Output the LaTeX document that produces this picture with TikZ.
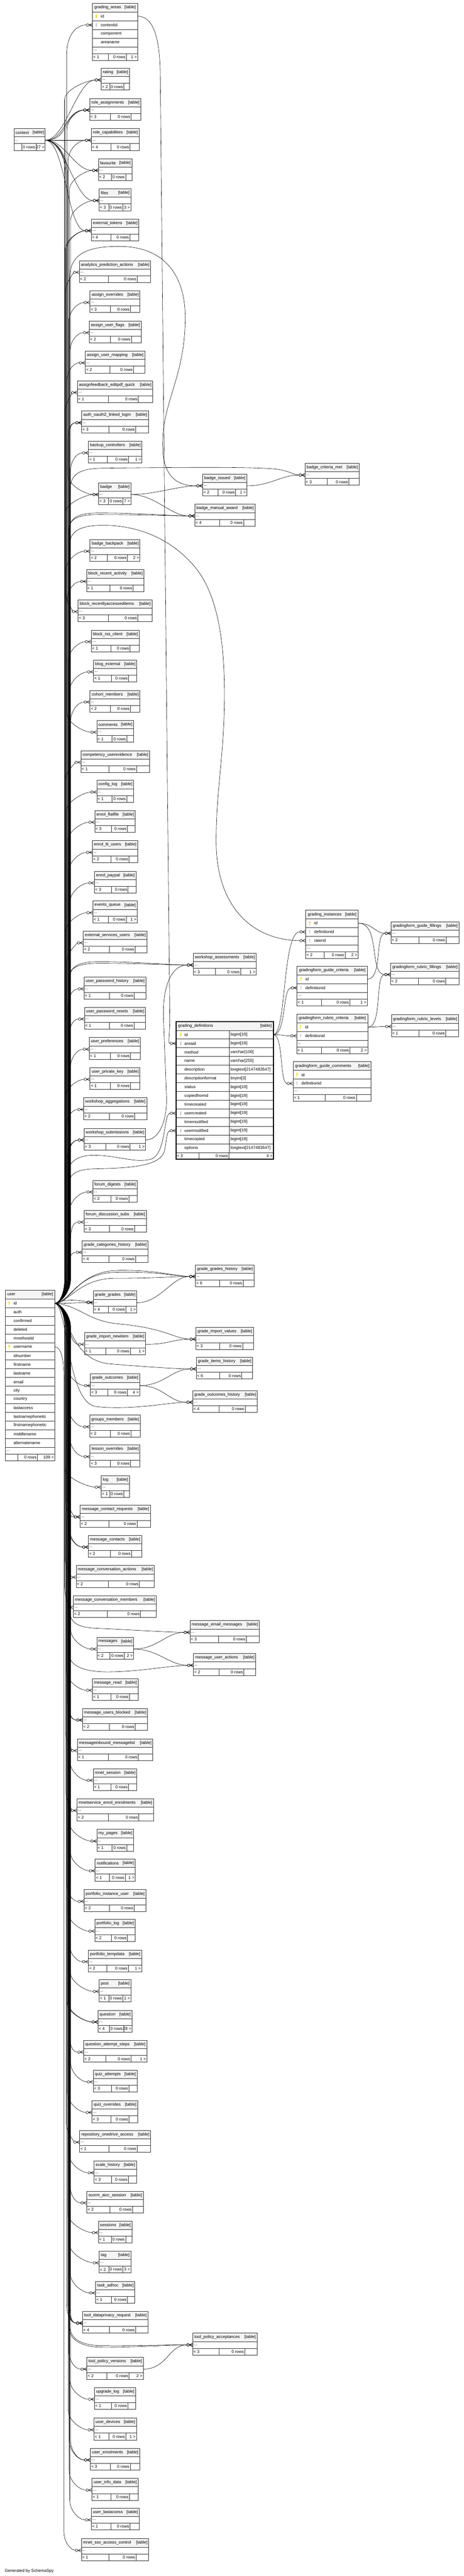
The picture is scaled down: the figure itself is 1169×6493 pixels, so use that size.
\documentclass[tikz,border=0pt]{standalone}
\usepackage{fontspec}
\setmainfont{Liberation Sans}
\usetikzlibrary{calc,arrows.meta}

\definecolor{hdrgray}{HTML}{F4F4F4}
\definecolor{keyyellow}{HTML}{E6DA00}
\definecolor{keygray}{HTML}{C4C4C4}

\pgfdeclarearrow{
  name = CrowO,
  parameters = {\the\pgfarrowlinewidth},
  setup code = {
    \pgfarrowssettipend{0pt}
    \pgfarrowssetlineend{-14.7pt}
    \pgfarrowssetbackend{-14.7pt}
    \pgfarrowsupperhullpoint{0pt}{4pt}
    \pgfarrowsupperhullpoint{-14.7pt}{3.2pt}
  },
  drawing code = {
    \pgfsetdash{}{0pt}
    \pgfpathmoveto{\pgfqpoint{0pt}{4pt}}
    \pgfpathlineto{\pgfqpoint{-8pt}{0pt}}
    \pgfpathlineto{\pgfqpoint{0pt}{-4pt}}
    \pgfpathmoveto{\pgfqpoint{-8.3pt}{0pt}}
    \pgfpathlineto{\pgfqpoint{0pt}{0pt}}
    \pgfpathcircle{\pgfqpoint{-11.5pt}{0pt}}{3.2pt}
    \pgfusepathqstroke
  }
}

% id, left, right, top, parents, children
\newcommand{\tblfoot}[6]{%
  \def\tblP{#5}\def\tblC{#6}%
  \pgfmathsetmacro{\tblW}{#3-#2}%
  \pgfmathsetmacro{\tblM}{max(36,0.4*\tblW)}%
  \ifx\tblC\empty\pgfmathsetmacro{\tblR}{max(12,0.19*\tblW)}\else\pgfmathsetmacro{\tblR}{max(20,0.25*\tblW)}\fi
  \pgfmathsetmacro{\tblL}{\tblW-\tblM-\tblR}%
  \ifx\tblP\empty\pgfmathsetmacro{\tblL}{0.25*\tblW}\fi
  \pgfmathsetmacro{\tblA}{#2+\tblL}%
  \pgfmathsetmacro{\tblB}{\tblA+\tblM}%
  \draw[tline, fill=white] (#2,#4) rectangle (#3,#4+17)
    (\tblA,#4) -- (\tblA,#4+17) (\tblB,#4) -- (\tblB,#4+17);
  \node[ftext, anchor=west] (#1-p) at (#2+2,#4+8.5) {#5};
  \node[ftext, anchor=east] (#1-n) at (\tblB-2,#4+8.5) {0 rows};
  \node[ftext, anchor=east] (#1-c) at (#3-2,#4+8.5) {#6};
}

% id, label, left, right, top, parents, children
\newcommand{\smalltbl}[7]{%
  \draw[tline, fill=hdrgray] (#3,#5) rectangle (#4,#5+21);
  \node[htext, anchor=west] (#1-h) at (#3+4,#5+10.5) {#2};
  \node[htext, anchor=east] (#1-t) at (#4-3,#5+10.5) {[table]};
  \node[dotrow, minimum width=#4-#3] (#1) at ({(#3+#4)/2},#5+29.5) {};
  \node[rtext, anchor=west] (#1-d) at (#3+2,#5+30) {...};
  \tblfoot{#1}{#3}{#4}{#5+38}{#6}{#7}
}

% id, label, left, right, top, rows, number of rows, parents, children
\newcommand{\bigtbl}[9]{%
  \pgfmathsetmacro{\tblY}{#5+22+22*#7}%
  \draw[tline, fill=hdrgray] (#3,#5) rectangle (#4,#5+22);
  \node[htext, anchor=west] (#1-h) at (#3+5,#5+11) {#2};
  \node[htext, anchor=east] (#1-t) at (#4-4,#5+11) {[table]};
  \foreach \keytype/\rowname [count=\i from 0] in {#6} {
    \node[rowcell, minimum width=#4-#3] (#1-\rowname) at ({(#3+#4)/2},#5+33+22*\i) {};
    \node[rtext, anchor=west] (#1-\rowname-x) at (#3+21,#5+33+22*\i) {\rowname};
    \if p\keytype \pic at (#3+10,#5+33+22*\i) {tkey=keyyellow};\fi
    \if f\keytype \pic at (#3+10,#5+33+22*\i) {tkey=keygray};\fi
  }
  \node[dotrow, minimum width=#4-#3] (#1) at ({(#3+#4)/2},\tblY+8.5) {};
  \node[rtext, anchor=west] (#1-d) at (#3+3,\tblY+9) {...};
  \tblfoot{#1}{#3}{#4}{\tblY+17}{#8}{#9}
}

\newcommand{\uup}[3][30]{%
  \draw[fk] let \p1=(#2.west) in (user-id.east) .. controls +(14,0) and +(0,30) .. (#3,3225)
    -- (#3pt,\y1-50pt) .. controls +(0,-28) and +(-#1,0) .. (#2.west);}
\newcommand{\udown}[3][30]{%
  \draw[fk] let \p1=(#2.west) in (user-id.east) .. controls +(14,0) and +(0,-30) .. (#3,3345)
    -- (#3pt,\y1+50pt) .. controls +(0,28) and +(-#1,0) .. (#2.west);}
\newcommand{\cdown}[3][30]{%
  \draw[fk] let \p1=(#2.west) in (context.east) .. controls +(30,0) and +(0,-45) .. (#3,440)
    -- (#3pt,\y1+50pt) .. controls +(0,28) and +(-#1,0) .. (#2.west);}
\newcommand{\cdirect}[1]{\draw[fk] (context.east) .. controls +(50,0) and +(-60,0) .. (#1.west);}
\newcommand{\fklink}[2]{\draw[fk] (#1.east) .. controls +(60,0) and +(-60,0) .. (#2.west);}

\begin{document}
\begin{tikzpicture}[x=1pt, y=-1pt,
  tline/.style={draw=black!80, line width=0.9pt},
  dotrow/.style={tline, fill=white, minimum height=17, inner sep=0pt},
  rowcell/.style={tline, fill=white, minimum height=22, inner sep=0pt},
  htext/.style={font=\fontsize{10.5}{12}\selectfont, inner sep=0pt},
  rtext/.style={font=\fontsize{10.5}{12}\selectfont, inner sep=0pt},
  ftext/.style={font=\fontsize{10.5}{12}\selectfont, inner sep=0pt},
  fk/.style={draw=black, line width=0.75pt, -{CrowO[]}},
  pics/tkey/.style={code={\fill[#1] (0,-2.6) circle (2.2); \fill[#1] (-0.9,-2) rectangle (0.9,4.8);}}]
\useasboundingbox (0,0) rectangle (1169,6493);

\bigtbl{gradingareas}{grading\_areas}{233}{347}{8}{p/id,f/contextid,n/component,n/areaname}{4}{< 1}{1 >}
\smalltbl{context}{context}{35}{114}{324}{}{27 >}
\smalltbl{rating}{rating}{255}{326}{172}{< 2}{}
\smalltbl{roleassignments}{role\_assignments}{226}{355}{248}{< 3}{}
\smalltbl{rolecaps}{role\_capabilities}{230}{351}{324}{< 4}{}
\smalltbl{favourite}{favourite}{248}{333}{400}{< 2}{}
\smalltbl{files}{files}{250}{330}{476}{< 3}{3 >}
\smalltbl{exttokens}{external\_tokens}{230}{350}{552}{< 4}{}
\smalltbl{analytics}{analytics\_prediction\_actions}{200}{380}{657}{< 2}{}
\smalltbl{assignoverrides}{assign\_overrides}{227}{353}{733}{< 3}{}
\smalltbl{assignuserflags}{assign\_user\_flags}{225}{356}{809}{< 2}{}
\smalltbl{assignusermapping}{assign\_user\_mapping}{215}{365}{885}{< 2}{}
\smalltbl{editpdfquick}{assignfeedback\_editpdf\_quick}{195}{385}{960}{< 1}{}
\smalltbl{oauthlogin}{auth\_oauth2\_linked\_login}{206}{374}{1036}{< 3}{}
\smalltbl{backupctrl}{backup\_controllers}{223}{358}{1112}{< 1}{1 >}
\smalltbl{badge}{badge}{249}{330}{1217}{< 3}{7 >}
\smalltbl{badgeissued}{badge\_issued}{511}{622}{1195}{< 2}{1 >}
\smalltbl{badgecritmet}{badge\_criteria\_met}{769}{906}{1168}{< 3}{}
\smalltbl{badgemanual}{badge\_manual\_award}{491}{643}{1271}{< 4}{}
\smalltbl{badgebackpack}{badge\_backpack}{227}{353}{1360}{< 2}{2 >}
\smalltbl{blockrecent}{block\_recent\_activity}{218}{363}{1436}{< 1}{}
\smalltbl{blockaccessed}{block\_recentlyaccesseditems}{197}{383}{1512}{< 3}{}
\smalltbl{blockrss}{block\_rss\_client}{230}{351}{1588}{< 1}{}
\smalltbl{blogext}{blog\_external}{236}{345}{1664}{< 1}{}
\smalltbl{cohortmembers}{cohort\_members}{227}{353}{1740}{< 2}{}
\smalltbl{comments}{comments}{244}{337}{1816}{< 1}{}
\smalltbl{compevidence}{competency\_userevidence}{204}{377}{1892}{< 1}{}
\smalltbl{configlog}{config\_log}{244}{337}{1967}{< 1}{}
\smalltbl{enrolflatfile}{enrol\_flatfile}{239}{341}{2043}{< 3}{}
\smalltbl{enrollti}{enrol\_lti\_users}{233}{347}{2119}{< 2}{}
\smalltbl{enrolpaypal}{enrol\_paypal}{238}{343}{2196}{< 3}{}
\smalltbl{eventsqueue}{events\_queue}{234}{346}{2271}{< 1}{1 >}
\smalltbl{extservusers}{external\_services\_users}{210}{371}{2347}{< 2}{}
\smalltbl{wsassess}{workshop\_assessments}{487}{646}{2403}{< 3}{1 >}
\smalltbl{pwhistory}{user\_password\_history}{212}{368}{2463}{< 1}{}
\smalltbl{pwresets}{user\_password\_resets}{213}{367}{2539}{< 1}{}
\smalltbl{userprefs}{user\_preferences}{225}{354}{2615}{< 1}{}
\smalltbl{privkey}{user\_private\_key}{227}{353}{2691}{< 1}{}
\smalltbl{wsaggr}{workshop\_aggregations}{211}{370}{2767}{< 2}{}
\smalltbl{wssubs}{workshop\_submissions}{212}{367}{2844}{< 3}{1 >}
\bigtbl{gradinginst}{grading\_instances}{771}{903}{2294}{p/id,f/definitionid,f/raterid}{3}{< 2}{2 >}
\bigtbl{guidecrit}{gradingform\_guide\_criteria}{749}{926}{2435}{p/id,f/definitionid}{2}{< 1}{1 >}
\bigtbl{rubriccrit}{gradingform\_rubric\_criteria}{748}{927}{2556}{p/id,f/definitionid}{2}{< 1}{2 >}
\bigtbl{guidecomm}{gradingform\_guide\_comments}{739}{936}{2676}{p/id,f/definitionid}{2}{< 1}{}
\smalltbl{guidefill}{gradingform\_guide\_fillings}{986}{1157}{2323}{< 2}{}
\smalltbl{rubricfill}{gradingform\_rubric\_fillings}{985}{1157}{2427}{< 2}{}
\smalltbl{rubriclevels}{gradingform\_rubric\_levels}{987}{1156}{2558}{< 1}{}

\draw[tline, fill=hdrgray] (444,2575) rectangle (689,2597);
\node[htext, anchor=west] (gradingdefs-h) at (449,2586) {grading\_definitions};
\node[htext, anchor=east] (gradingdefs-t) at (685,2586) {[table]};
\foreach \keytype/\rowname/\coltype [count=\i from 0] in {p/id/{bigint[19]}, f/areaid/{bigint[19]},
    n/method/{varchar[100]}, n/name/{varchar[255]}, n/description/{longtext[2147483647]},
    n/descriptionformat/{tinyint[3]}, n/status/{bigint[19]}, n/copiedfromid/{bigint[19]},
    n/timecreated/{bigint[19]}, f/usercreated/{bigint[19]}, n/timemodified/{bigint[19]},
    f/usermodified/{bigint[19]}, n/timecopied/{bigint[19]}, n/options/{longtext[2147483647]}} {
  \node[rowcell, minimum width=245] (gradingdefs-\rowname) at (566.5,2608+22*\i) {};
  \draw[tline] (578,2597+22*\i) -- (578,2619+22*\i);
  \node[rtext, anchor=west] (gradingdefs-\rowname-x) at (465,2608+22*\i) {\rowname};
  \node[rtext, anchor=west] (gradingdefs-\rowname-y) at (581,2608+22*\i) {\coltype};
  \if p\keytype \pic at (456,2608+22*\i) {tkey=keyyellow};\fi
  \if f\keytype \pic at (456,2608+22*\i) {tkey=keygray};\fi
}
\draw[tline, fill=white] (444,2905) rectangle (689,2922) (502,2905) -- (502,2922) (577,2905) -- (577,2922);
\node[ftext, anchor=west] (gradingdefs-p) at (446,2913.5) {< 3};
\node[ftext, anchor=east] (gradingdefs-n) at (575,2913.5) {0 rows};
\node[ftext, anchor=east] (gradingdefs-c) at (687,2913.5) {4 >};
\draw[line width=2.4pt] (444,2575) rectangle (689,2922);

\smalltbl{forumdigests}{forum\_digests}{234}{346}{2975}{< 2}{}
\smalltbl{forumsubs}{forum\_discussion\_subs}{212}{369}{3051}{< 3}{}
\smalltbl{gradecathist}{grade\_categories\_history}{207}{373}{3127}{< 4}{}
\smalltbl{gradegradeshist}{grade\_grades\_history}{493}{641}{3188}{< 6}{}
\smalltbl{gradegrades}{grade\_grades}{235}{345}{3254}{< 4}{1 >}
\smalltbl{importvalues}{grade\_import\_values}{494}{639}{3346}{< 3}{}
\smalltbl{importnewitem}{grade\_import\_newitem}{213}{367}{3359}{< 1}{1 >}
\smalltbl{itemshist}{grade\_items\_history}{495}{637}{3421}{< 6}{}
\smalltbl{outcomes}{grade\_outcomes}{228}{352}{3463}{< 3}{4 >}
\smalltbl{outcomeshist}{grade\_outcomes\_history}{486}{649}{3505}{< 4}{}
\smalltbl{groupsmembers}{groups\_members}{226}{354}{3567}{< 2}{}
\smalltbl{lessonoverrides}{lesson\_overrides}{227}{353}{3642}{< 3}{}
\bigtbl{user}{user}{13}{138}{3252}{p/id,n/auth,n/confirmed,n/deleted,n/mnethostid,p/username,n/idnumber,n/firstname,n/lastname,n/email,n/city,n/country,n/lastaccess,n/lastnamephonetic,n/firstnamephonetic,n/middlename,n/alternatename}{17}{}{109 >}
\smalltbl{log}{log}{255}{326}{3719}{< 1}{}
\smalltbl{msgcontactreq}{message\_contact\_requests}{202}{379}{3794}{< 2}{}
\smalltbl{msgcontacts}{message\_contacts}{223}{357}{3870}{< 2}{}
\smalltbl{msgconvactions}{message\_conversation\_actions}{192}{389}{3946}{< 2}{}
\smalltbl{msgconvmembers}{message\_conversation\_members}{185}{394}{4022}{< 2}{}
\smalltbl{msgemail}{message\_email\_messages}{479}{654}{4085}{< 3}{}
\smalltbl{messages}{messages}{244}{337}{4127}{< 2}{2 >}
\smalltbl{msguseractions}{message\_user\_actions}{488}{645}{4168}{< 2}{}
\smalltbl{msgread}{message\_read}{233}{348}{4231}{< 1}{}
\smalltbl{msgblocked}{message\_users\_blocked}{208}{372}{4306}{< 2}{}
\smalltbl{msginbound}{messageinbound\_messagelist}{195}{385}{4383}{< 1}{}
\smalltbl{mnetsession}{mnet\_session}{235}{345}{4458}{< 1}{}
\smalltbl{mnetenrol}{mnetservice\_enrol\_enrolments}{194}{387}{4534}{< 2}{}
\smalltbl{mypages}{my\_pages}{244}{337}{4611}{< 1}{}
\smalltbl{notifications}{notifications}{240}{341}{4686}{< 1}{1 >}
\smalltbl{portinstuser}{portfolio\_instance\_user}{212}{368}{4763}{< 2}{}
\smalltbl{portlog}{portfolio\_log}{239}{341}{4838}{< 2}{}
\smalltbl{porttemp}{portfolio\_tempdata}{223}{357}{4915}{< 2}{1 >}
\smalltbl{post}{post}{250}{330}{4990}{< 1}{1 >}
\smalltbl{question}{question}{247}{333}{5067}{< 4}{28 >}
\smalltbl{qsteps}{question\_attempt\_steps}{211}{370}{5143}{< 2}{1 >}
\smalltbl{quizattempts}{quiz\_attempts}{235}{346}{5218}{< 3}{}
\smalltbl{quizoverrides}{quiz\_overrides}{232}{347}{5295}{< 3}{}
\smalltbl{onedrive}{repository\_onedrive\_access}{201}{380}{5370}{< 1}{}
\smalltbl{scalehist}{scale\_history}{237}{344}{5447}{< 3}{}
\smalltbl{scorm}{scorm\_aicc\_session}{219}{361}{5523}{< 2}{}
\smalltbl{sessions}{sessions}{248}{333}{5598}{< 1}{}
\smalltbl{tag}{tag}{250}{330}{5674}{< 2}{3 >}
\smalltbl{taskadhoc}{task\_adhoc}{241}{340}{5750}{< 1}{}
\smalltbl{dataprivacy}{tool\_dataprivacy\_request}{208}{373}{5826}{< 4}{}
\smalltbl{policyacc}{tool\_policy\_acceptances}{486}{648}{5881}{< 3}{}
\smalltbl{policyvers}{tool\_policy\_versions}{219}{361}{5942}{< 2}{2 >}
\smalltbl{upgradelog}{upgrade\_log}{238}{342}{6018}{< 1}{}
\smalltbl{userdevices}{user\_devices}{237}{344}{6095}{< 1}{1 >}
\smalltbl{userenrol}{user\_enrolments}{228}{352}{6171}{< 3}{}
\smalltbl{userinfo}{user\_info\_data}{232}{348}{6247}{< 1}{}
\smalltbl{lastaccess}{user\_lastaccess}{230}{351}{6322}{< 1}{}
\smalltbl{mnetsso}{mnet\_sso\_access\_control}{205}{375}{6399}{< 1}{}
\node[htext, anchor=west] (credit) at (12,6480) {Generated by SchemaSpy};

% context
\draw[fk] (context.east) .. controls (150,353) and (168,330) .. (168,290) -- (168,140)
  .. controls (168,90) and (190,63) .. (gradingareas-contextid.west);
\cdirect{rating}
\cdirect{roleassignments}
\cdirect{rolecaps}
\cdirect{favourite}
\cdirect{files}
\cdirect{exttokens}
\cdown{badge}{171}
\cdown[8]{blockaccessed}{165}
\cdown{comments}{168}

% user, upwards
\uup{rating}{163}
\uup{roleassignments}{166}
\uup{roleassignments}{169}
\uup{rolecaps}{172}
\uup{favourite}{175}
\uup{files}{178}
\uup{exttokens}{164}
\uup{exttokens}{167}
\uup[10]{analytics}{165}
\uup{assignoverrides}{173}
\uup{assignuserflags}{176}
\uup{assignusermapping}{168}
\uup[8]{editpdfquick}{164}
\uup{oauthlogin}{171}
\uup{oauthlogin}{174}
\uup{backupctrl}{177}
\uup{badge}{163}
\uup{badgebackpack}{166}
\uup{blockrecent}{169}
\uup{blockrss}{172}
\uup{blogext}{175}
\uup{cohortmembers}{178}
\uup[10]{compevidence}{164}
\uup{configlog}{167}
\uup{enrolflatfile}{170}
\uup{enrollti}{173}
\uup{enrolpaypal}{176}
\uup{eventsqueue}{165}
\uup[12]{extservusers}{168}
\uup{pwhistory}{171}
\uup{pwresets}{174}
\uup{userprefs}{177}
\uup{privkey}{163}
\uup{wsaggr}{166}
\uup{wssubs}{169}
\uup{wssubs}{172}
\uup{forumdigests}{175}
\uup{forumsubs}{178}
\uup{gradecathist}{170}

\draw[fk] (user-id.east) .. controls +(14,0) and +(0,30) .. (176,3225) -- (176,700)
  .. controls (176,640) and (220,621) .. (300,621) .. controls (420,621) and (467,700) .. (467,800)
  .. controls (467,950) and (410,1010) .. (410,1120) .. controls (410,1195) and (440,1225) .. (badgeissued.west);
\draw[fk] (user-id.east) .. controls +(14,0) and +(0,30) .. (177,3225) -- (177,1235)
  .. controls (177,1195) and (200,1181) .. (260,1180) .. controls (450,1178) and (650,1176) .. (700,1183)
  .. controls (730,1187) and (740,1197) .. (badgecritmet.west);
\draw[fk] (user-id.east) .. controls +(14,0) and +(0,30) .. (175,3225) -- (175,1335)
  .. controls (175,1303) and (200,1293) .. (250,1293) .. controls (350,1293) and (430,1300) .. (badgemanual.west);
\draw[fk] (user-id.east) .. controls +(14,0) and +(0,30) .. (173,3225) -- (173,1338)
  .. controls (173,1306) and (200,1297) .. (250,1297) .. controls (350,1297) and (430,1300) .. (badgemanual.west);
\draw[fk] (user-id.east) .. controls +(14,0) and +(0,30) .. (176,3225) -- (176,1372)
  .. controls (176,1335) and (210,1324) .. (260,1324) .. controls (350,1324) and (440,1360) .. (500,1440)
  .. controls (550,1510) and (566,1620) .. (566,1750) .. controls (566,1900) and (545,1990) .. (545,2120)
  .. controls (545,2290) and (640,2370) .. (gradinginst-raterid.west);
\draw[fk] (user-id.east) .. controls +(14,0) and +(0,30) .. (177,3225) -- (177,2462)
  .. controls (177,2435) and (200,2424) .. (250,2424) .. controls (350,2424) and (420,2432) .. (wsassess.west);
\draw[fk] (user-id.east) .. controls +(14,0) and +(0,30) .. (174,3225) -- (174,2465)
  .. controls (174,2438) and (200,2428) .. (250,2428) .. controls (350,2428) and (420,2432) .. (wsassess.west);
\draw[fk] (user-id.east) .. controls +(14,0) and +(0,30) .. (172,3225) -- (172,2958)
  .. controls (172,2925) and (200,2911) .. (240,2912) .. controls (300,2913) and (340,2932) .. (380,2922)
  .. controls (420,2910) and (412,2806) .. (gradingdefs-usercreated.west);
\draw[fk] (user-id.east) .. controls +(14,0) and +(0,30) .. (174,3225) -- (174,2985)
  .. controls (174,2955) and (200,2947) .. (240,2946) .. controls (330,2944) and (405,2940) .. (415,2900)
  .. controls (420,2875) and (420,2850) .. (gradingdefs-usermodified.west);

% near the user
\draw[fk] (user-id.east) .. controls +(40,0) and +(-40,0) .. (gradegrades.west);
\draw[fk] (user-id.east) .. controls (170,3272) and (200,3278) .. (gradegrades.west);
\draw[fk] (user-id.east) .. controls (175,3285) and (190,3210) .. (290,3207) .. controls (400,3204) and (440,3217) .. (gradegradeshist.west);
\draw[fk] (user-id.east) .. controls (178,3285) and (195,3203) .. (300,3202) .. controls (400,3201) and (440,3217) .. (gradegradeshist.west);
\draw[fk] (user-id.east) .. controls (172,3285) and (200,3222) .. (290,3222) .. controls (400,3222) and (440,3217) .. (gradegradeshist.west);
\draw[fk] (user-id.east) .. controls (200,3290) and (220,3330) .. (300,3337) .. controls (420,3348) and (440,3375) .. (importvalues.west);
\draw[fk] (user-id.east) .. controls (178,3290) and (168,3388) .. (importnewitem.west);
\draw[fk] (user-id.east) .. controls (172,3295) and (170,3430) .. (280,3438) .. controls (380,3446) and (440,3450) .. (itemshist.west);
\draw[fk] (user-id.east) .. controls (172,3295) and (168,3530) .. (240,3545) .. controls (330,3556) and (430,3534) .. (outcomeshist.west);
\udown{outcomes}{170}

% user, downwards
\udown{groupsmembers}{173}
\udown{lessonoverrides}{176}
\udown{log}{163}
\udown{msgcontactreq}{166}
\udown[12]{msgcontactreq}{169}
\udown{msgcontacts}{172}
\udown{msgcontacts}{175}
\udown[8]{msgconvactions}{164}
\udown[6]{msgconvmembers}{163}
\udown{messages}{178}
\udown{msgread}{167}
\udown{msgblocked}{170}
\udown{msgblocked}{173}
\udown[8]{msginbound}{165}
\udown{mnetsession}{176}
\udown[8]{mnetenrol}{166}
\udown{mypages}{174}
\udown{notifications}{177}
\udown{portinstuser}{168}
\udown{portlog}{171}
\udown{porttemp}{174}
\udown{post}{177}
\udown{question}{169}
\udown{question}{172}
\udown{qsteps}{175}
\udown{quizattempts}{178}
\udown{quizoverrides}{170}
\udown[10]{onedrive}{167}
\udown{scalehist}{173}
\udown{scorm}{176}
\udown{sessions}{171}
\udown{tag}{174}
\udown{taskadhoc}{177}
\udown{dataprivacy}{168}
\udown{dataprivacy}{171}
\udown{dataprivacy}{174}
\udown{dataprivacy}{177}
\udown{policyvers}{173}
\udown{upgradelog}{176}
\udown{userdevices}{172}
\udown{userenrol}{175}
\udown{userenrol}{178}
\udown{userinfo}{174}
\udown{lastaccess}{176}
\draw[fk] (user-id.east) .. controls +(14,0) and +(0,-30) .. (176,3345) -- (176,4060)
  .. controls (176,4092) and (200,4102) .. (240,4104) .. controls (330,4108) and (420,4114) .. (msgemail.west);
\draw[fk] (user-id.east) .. controls +(14,0) and +(0,-30) .. (175,3345) -- (175,4170)
  .. controls (175,4200) and (215,4214) .. (270,4214) .. controls (350,4214) and (430,4198) .. (msguseractions.west);
\draw[fk] (user-id.east) .. controls +(14,0) and +(0,-30) .. (176,3345) -- (176,5862)
  .. controls (176,5898) and (210,5911) .. (250,5912) .. controls (350,5913) and (430,5910) .. (policyacc.west);
\draw[fk] (user-id.east) .. controls +(14,0) and +(0,-30) .. (174,3345) -- (174,5865)
  .. controls (174,5900) and (210,5915) .. (250,5916) .. controls (350,5917) and (430,5910) .. (policyacc.west);
\draw[fk] (user-username.east) .. controls (152,3395) and (161,3420) .. (161,3470) -- (161,6380)
  .. controls (161,6410) and (180,6428) .. (mnetsso.west);

% other tables
\fklink{badge}{badgeissued}
\fklink{badge}{badgemanual}
\fklink{badgeissued}{badgecritmet}
\fklink{gradegrades}{gradegradeshist}
\fklink{importnewitem}{importvalues}
\fklink{outcomes}{itemshist}
\fklink{outcomes}{outcomeshist}
\fklink{messages}{msgemail}
\fklink{messages}{msguseractions}
\fklink{policyvers}{policyacc}
\draw[fk] (wssubs.east) .. controls (400,2873) and (420,2830) .. (420,2770) -- (412,2560)
  .. controls (411,2470) and (440,2432) .. (wsassess.west);
\draw[fk] (gradingareas-id.east) .. controls (385,41) and (402,90) .. (404,180) -- (428,2560)
  .. controls (429,2610) and (422,2630) .. (gradingdefs-areaid.west);
\draw[fk] (gradingdefs-id.east) .. controls (722,2608) and (712,2348) .. (gradinginst-definitionid.west);
\draw[fk] (gradingdefs-id.east) .. controls (722,2608) and (712,2490) .. (guidecrit-definitionid.west);
\draw[fk] (gradingdefs-id.east) .. controls (715,2608) and (715,2611) .. (rubriccrit-definitionid.west);
\draw[fk] (gradingdefs-id.east) .. controls (715,2608) and (705,2731) .. (guidecomm-definitionid.west);
\draw[fk] (gradinginst-id.east) .. controls (940,2327) and (945,2352) .. (guidefill.west);
\draw[fk] (gradinginst-id.east) .. controls (960,2327) and (930,2456) .. (rubricfill.west);
\draw[fk] (guidecrit-id.east) .. controls (965,2468) and (945,2352) .. (guidefill.west);
\draw[fk] (rubriccrit-id.east) .. controls (965,2589) and (945,2456) .. (rubricfill.west);
\draw[fk] (rubriccrit-id.east) .. controls (950,2589) and (960,2587) .. (rubriclevels.west);
\end{tikzpicture}
\end{document}
